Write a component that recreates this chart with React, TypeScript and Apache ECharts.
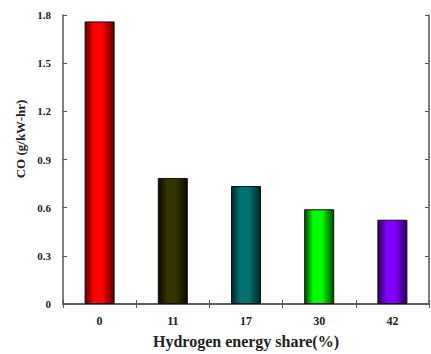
import React, { useEffect, useRef } from "react";
import * as echarts from "echarts";

const categories = ["0", "11", "17", "30", "42"];
const coValues = [1.76, 0.785, 0.735, 0.59, 0.525];
const barCenterColors = ["#ff0000", "#343400", "#007272", "#00ff00", "#8000ff"];
const barEdgeColors = ["#5a0000", "#0a0a00", "#002424", "#004a00", "#2a0055"];
const yTicks = [0, 0.3, 0.6, 0.9, 1.2, 1.5, 1.8];

const FONT = "'Liberation Serif', 'Times New Roman', serif";

export default function App() {
  const ref = useRef<HTMLDivElement>(null);
  useEffect(() => {
    if (!ref.current) return;
    const chart = echarts.init(ref.current, undefined, { renderer: "svg" });
    const axisLine = { show: true, lineStyle: { color: "#555", width: 1.5 } };
    chart.setOption({
      animation: false,
      backgroundColor: "#fff",
      grid: { left: 63, right: 2, top: 15, bottom: 48 },
      xAxis: [
        {
          type: "category",
          data: categories,
          position: "bottom",
          axisLine,
          axisTick: { show: true, inside: true, length: 4, alignWithLabel: false, lineStyle: { color: "#555" } },
          axisLabel: { fontFamily: FONT, fontWeight: "bold", fontSize: 12, color: "#222", margin: 11 },
          name: "Hydrogen energy share(%)",
          nameLocation: "middle",
          nameGap: 29,
          nameTextStyle: { fontFamily: FONT, fontWeight: "bold", fontSize: 16, color: "#222" },
        },
        {
          type: "category",
          data: categories,
          position: "top",
          axisLine,
          axisTick: { show: true, inside: true, length: 4, lineStyle: { color: "#555" } },
          axisLabel: { show: false },
        },
      ],
      yAxis: [
        {
          type: "value",
          min: 0,
          max: 1.8,
          interval: 0.3,
          position: "left",
          axisLine,
          splitLine: { show: false },
          axisTick: { show: true, inside: true, length: 4, lineStyle: { color: "#555" } },
          axisLabel: {
            fontFamily: FONT,
            fontWeight: "bold",
            fontSize: 11,
            color: "#222",
            margin: 12,
            formatter: (v: number) => (yTicks.includes(Math.round(v * 10) / 10) ? String(Math.round(v * 10) / 10) : ""),
          },
        },
        {
          type: "value",
          min: 0,
          max: 1.8,
          interval: 0.3,
          position: "right",
          axisLine,
          splitLine: { show: false },
          axisTick: { show: true, inside: true, length: 4, lineStyle: { color: "#555" } },
          axisLabel: { show: false },
        },
      ],
      graphic: [
        {
          type: "text",
          x: 20,
          y: 139,
          rotation: Math.PI / 2,
          style: {
            text: "CO (g/kW-hr)",
            fontFamily: FONT,
            fontWeight: "bold",
            fontSize: 13,
            fill: "#222",
            align: "center",
            verticalAlign: "middle",
          },
        },
      ],
      series: [
        {
          type: "bar",
          barWidth: "41%",
          data: coValues.map((v, i) => ({
            value: v,
            itemStyle: {
              color: {
                type: "linear",
                x: 0,
                y: 0,
                x2: 1,
                y2: 0,
                colorStops: [
                  { offset: 0, color: barEdgeColors[i] },
                  { offset: 0.3, color: barCenterColors[i] },
                  { offset: 0.6, color: barCenterColors[i] },
                  { offset: 1, color: barEdgeColors[i] },
                ],
              },
              borderColor: "#111",
              borderWidth: 1,
            },
          })),
        },
      ],
    });
    return () => chart.dispose();
  }, []);
  return (
    <div
      ref={ref}
      style={{ position: "absolute", left: 0, top: 0, width: 431, height: 354 }}
    />
  );
}
